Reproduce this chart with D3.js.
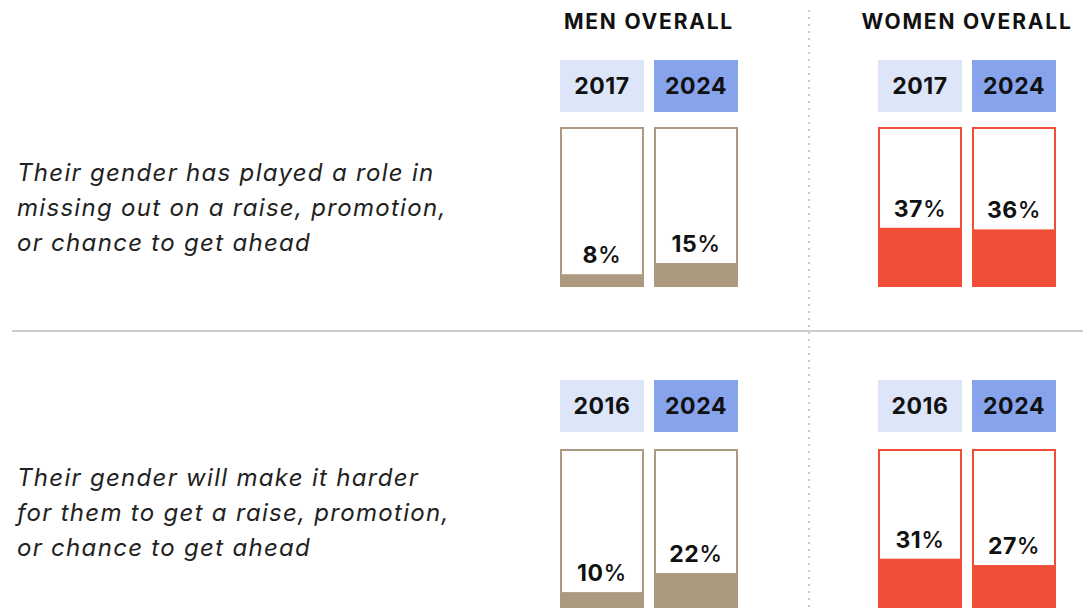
<!DOCTYPE html>
<html>
<head>
<meta charset="utf-8">
<script src="https://cdn.jsdelivr.net/npm/d3@7"></script>
<style>
  body { margin: 0; background: #fff; }
  svg { display: block; font-family: Inter, "Open Sans", sans-serif; }
</style>
</head>
<body>
<div id="chart"></div>
<script>
// data
const groups = ["MEN OVERALL", "WOMEN OVERALL"];
const rowLabels = [
  ["Their gender has played a role in", "missing out on a raise, promotion,", "or chance to get ahead"],
  ["Their gender will make it harder", "for them to get a raise, promotion,", "or chance to get ahead"]
];
const rowYears = [["2017", "2024"], ["2016", "2024"]];
const menValues = [[8, 15], [10, 22]];
const womenValues = [[37, 36], [31, 27]];

const width = 1083, height = 610;
const colors = {
  "MEN OVERALL": "#ab9a80",
  "WOMEN OVERALL": "#f04e37"
};
const yearFill = ["#dde6f8", "#87a3ec"];

const svg = d3.select("#chart")
  .append("svg")
    .attr("width", width)
    .attr("height", height);

// group position, then the two bars within a group
const groupX = d3.scaleOrdinal().domain(groups).range([560, 878]);
const barX = d3.scaleBand().domain([0, 1]).range([0, 178]).paddingInner(10 / 94);

// each row: where the year boxes and bars sit
const rows = [
  {top: 60, barTop: 127, barBottom: 287, labelY: 181},
  {top: 380, barTop: 449, barBottom: 608, labelY: 486}
];

// divider lines
svg.append("line")
  .attr("x1", 12).attr("x2", width)
  .attr("y1", 331).attr("y2", 331)
  .attr("stroke", "#cccccc")
  .attr("stroke-width", 2);

svg.append("line")
  .attr("x1", 809).attr("x2", 809)
  .attr("y1", 10).attr("y2", height)
  .attr("stroke", "#bbbbbb")
  .attr("stroke-width", 1.5)
  .attr("stroke-dasharray", "2,5");

// group titles
svg.selectAll("text.group-title")
  .data(groups)
  .join("text")
    .attr("class", "group-title")
    .attr("x", d => groupX(d) + 89)
    .attr("y", 29)
    .attr("text-anchor", "middle")
    .attr("font-size", "21px")
    .attr("font-weight", 700)
    .attr("letter-spacing", "1.8px")
    .attr("fill", "#111")
    .text(d => d);

rows.forEach(function(row, i) {
  const g = svg.append("g");

  // question text
  g.append("text")
    .attr("x", 17)
    .attr("y", row.labelY)
    .attr("font-size", "24px")
    .attr("font-style", "italic")
    .attr("letter-spacing", "1.3px")
    .attr("fill", "#222")
    .selectAll("tspan")
    .data(rowLabels[i])
    .join("tspan")
      .attr("x", 17)
      .attr("dy", (d, k) => k === 0 ? 0 : 35)
      .text(d => d);

  const y = d3.scaleLinear().domain([0, 100]).range([row.barBottom, row.barTop]);

  groups.forEach(function(grp) {
    const vals = grp === "MEN OVERALL" ? menValues[i] : womenValues[i];
    const data = vals.map((v, k) => ({k: k, value: v, year: rowYears[i][k]}));
    const gx = svg.append("g").attr("transform", `translate(${groupX(grp)},0)`);

    // year boxes
    gx.selectAll("rect.year")
      .data(data)
      .join("rect")
        .attr("class", "year")
        .attr("x", d => barX(d.k))
        .attr("y", row.top)
        .attr("width", barX.bandwidth())
        .attr("height", 52)
        .attr("fill", d => yearFill[d.k]);

    gx.selectAll("text.year")
      .data(data)
      .join("text")
        .attr("class", "year")
        .attr("x", d => barX(d.k) + barX.bandwidth() / 2)
        .attr("y", row.top + 34)
        .attr("text-anchor", "middle")
        .attr("font-size", "23px")
        .attr("font-weight", 700)
        .attr("letter-spacing", "0.6px")
        .attr("fill", "#111")
        .text(d => d.year);

    // outline (100%)
    gx.selectAll("rect.outline")
      .data(data)
      .join("rect")
        .attr("class", "outline")
        .attr("x", d => barX(d.k) + 1)
        .attr("y", y(100) + 1)
        .attr("width", barX.bandwidth() - 2)
        .attr("height", y(0) - y(100) - 2)
        .attr("fill", "#fff")
        .attr("stroke", colors[grp])
        .attr("stroke-width", 2);

    // value fill
    gx.selectAll("rect.value")
      .data(data)
      .join("rect")
        .attr("class", "value")
        .attr("x", d => barX(d.k))
        .attr("y", d => y(d.value))
        .attr("width", barX.bandwidth())
        .attr("height", d => y(0) - y(d.value))
        .attr("fill", colors[grp]);

    // value labels
    const lbl = gx.selectAll("text.value")
      .data(data)
      .join("text")
        .attr("class", "value")
        .attr("x", d => barX(d.k) + barX.bandwidth() / 2)
        .attr("y", d => y(d.value) - 11)
        .attr("text-anchor", "middle")
        .attr("font-size", "23px")
        .attr("letter-spacing", "0.5px")
        .attr("fill", "#111");
    lbl.append("tspan").attr("font-weight", 700).text(d => d.value);
    lbl.append("tspan").attr("font-weight", 500).text("%");
  });
});
</script>
</body>
</html>
